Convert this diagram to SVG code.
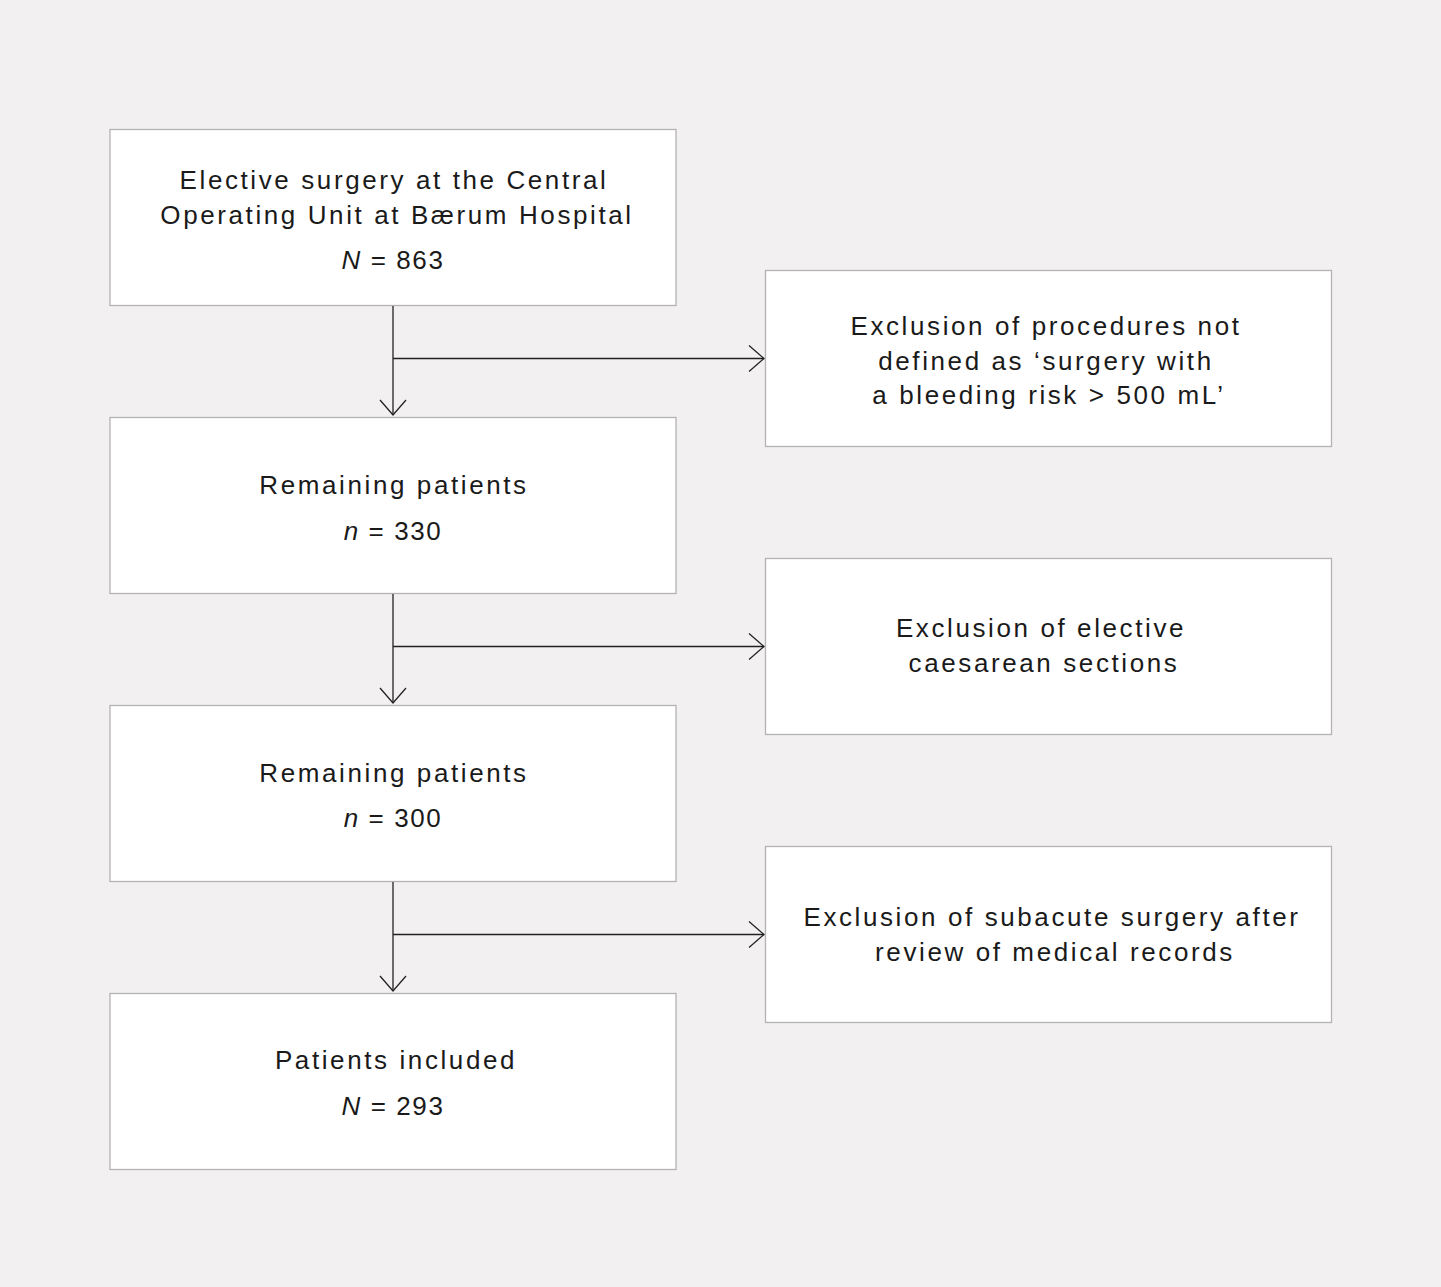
<svg xmlns="http://www.w3.org/2000/svg" width="1441" height="1287" viewBox="0 0 1441 1287">
<defs>
<style>
.box{fill:#ffffff;stroke:#b3b3b3;stroke-width:1.3}
.t{font-family:"Liberation Sans",Arial,sans-serif;font-size:26px;fill:#1a1a1a;text-anchor:middle;letter-spacing:2.6px}
.num{letter-spacing:1.6px}
.c{fill:none;stroke:#222;stroke-width:1.3}
</style>
<marker id="ah" viewBox="0 0 20 30" refX="17" refY="15" markerWidth="20" markerHeight="30" markerUnits="userSpaceOnUse" orient="auto">
<path d="M2,2 L17,15 L2,28" fill="none" stroke="#222" stroke-width="1.3"/>
</marker>
</defs>
<rect width="1441" height="1287" fill="#f2f0f1"/>
<g id="n1"><rect class="box" x="110" y="129.5" width="566" height="176"/>
<text class="t" x="394" y="189">Elective surgery at the Central</text>
<text class="t" x="397" y="224">Operating Unit at Bærum Hospital</text>
<text class="t num" x="393" y="269"><tspan font-style="italic">N</tspan> = 863</text></g>
<g id="n2"><rect class="box" x="110" y="417.5" width="566" height="176"/>
<text class="t" x="394" y="494">Remaining patients</text>
<text class="t num" x="393" y="540"><tspan font-style="italic">n</tspan> = 330</text></g>
<g id="n3"><rect class="box" x="110" y="705.5" width="566" height="176"/>
<text class="t" x="394" y="782">Remaining patients</text>
<text class="t num" x="393" y="827"><tspan font-style="italic">n</tspan> = 300</text></g>
<g id="n4"><rect class="box" x="110" y="993.5" width="566" height="176"/>
<text class="t" x="396" y="1069">Patients included</text>
<text class="t num" x="393" y="1115"><tspan font-style="italic">N</tspan> = 293</text></g>
<g id="e1"><rect class="box" x="765.5" y="270.5" width="566" height="176"/>
<text class="t" x="1046" y="335">Exclusion of procedures not</text>
<text class="t" x="1046" y="370">defined as ‘surgery with</text>
<text class="t" x="1049" y="404">a bleeding risk &gt; 500 mL’</text></g>
<g id="e2"><rect class="box" x="765.5" y="558.5" width="566" height="176"/>
<text class="t" x="1041" y="637">Exclusion of elective</text>
<text class="t" x="1044" y="672">caesarean sections</text></g>
<g id="e3"><rect class="box" x="765.5" y="846.5" width="566" height="176"/>
<text class="t" x="1052" y="926">Exclusion of subacute surgery after</text>
<text class="t" x="1055" y="961">review of medical records</text></g>
<g id="connectors">
<line class="c" x1="393" y1="306" x2="393" y2="415" marker-end="url(#ah)"/>
<line class="c" x1="393" y1="358.5" x2="764" y2="358.5" marker-end="url(#ah)"/>
<line class="c" x1="393" y1="594" x2="393" y2="703" marker-end="url(#ah)"/>
<line class="c" x1="393" y1="646.5" x2="764" y2="646.5" marker-end="url(#ah)"/>
<line class="c" x1="393" y1="882" x2="393" y2="991" marker-end="url(#ah)"/>
<line class="c" x1="393" y1="934.5" x2="764" y2="934.5" marker-end="url(#ah)"/>
</g>
</svg>
